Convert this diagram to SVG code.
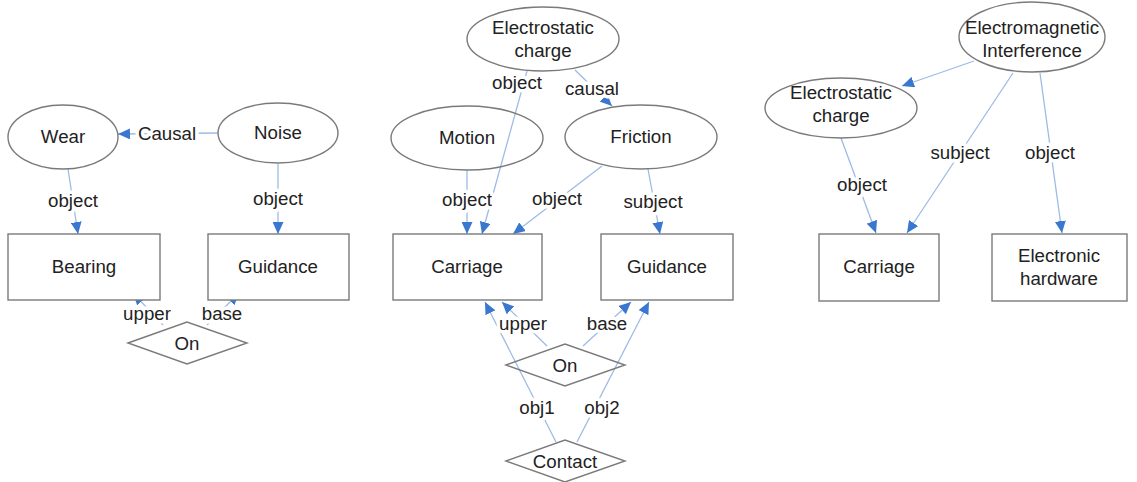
<svg xmlns="http://www.w3.org/2000/svg" width="1137" height="482" viewBox="0 0 1137 482">
  <style>
    .node { fill: #ffffff; stroke: #7a7a7a; stroke-width: 1.4; }
    .open { fill: none; }
    .txt { font-family: "Liberation Sans", Arial, sans-serif; font-size: 18.7px; fill: #222222; text-anchor: middle; }
    .edge { fill: none; stroke: #9dbbe6; stroke-width: 1.3; marker-end: url(#arrow); }
    .lbl { font-family: "Liberation Sans", Arial, sans-serif; font-size: 18.7px; fill: #222222; text-anchor: middle; stroke: #ffffff; stroke-width: 7; stroke-linejoin: round; paint-order: stroke; }
  </style>
  <defs>
    <marker id="arrow" markerUnits="userSpaceOnUse" markerWidth="12" markerHeight="11" refX="12" refY="5.5" orient="auto">
      <path d="M0,0 L12,5.5 L0,11 Z" fill="#3a78cf"/>
    </marker>
  </defs>
  <rect width="1137" height="482" fill="#ffffff"/>

  <!-- connectors -->
  <g id="connectors">
    <!-- left group -->
    <line class="edge" x1="218" y1="133" x2="118" y2="134"/>
    <line class="edge" x1="68" y1="169" x2="78" y2="234"/>
    <line class="edge" x1="278" y1="164" x2="278" y2="234"/>
    <line class="edge" x1="163" y1="325" x2="133" y2="293"/>
    <line class="edge" x1="207" y1="325" x2="239" y2="293"/>
    <!-- middle group -->
    <line class="edge" x1="575" y1="70" x2="612" y2="106"/>
    <line class="edge" x1="467" y1="170" x2="467" y2="234"/>
    <line class="edge" x1="602" y1="166" x2="513" y2="234"/>
    <line class="edge" x1="648" y1="169" x2="660" y2="234"/>
    <line class="edge" x1="547" y1="346" x2="502" y2="302"/>
    <line class="edge" x1="583" y1="346" x2="631" y2="302"/>
    <line class="edge" x1="556" y1="442" x2="485" y2="302"/>
    <line class="edge" x1="577" y1="442" x2="649" y2="302"/>
    <line class="edge" x1="527" y1="71" x2="482" y2="234"/>
    <!-- right group -->
    <line class="edge" x1="974" y1="61" x2="902" y2="86"/>
    <line class="edge" x1="841" y1="138" x2="876" y2="233"/>
    <line class="edge" x1="1013" y1="73" x2="907" y2="233"/>
    <line class="edge" x1="1040" y1="73" x2="1062" y2="233"/>

    <!-- connector labels -->
    <text class="lbl" x="167" y="140">Causal</text>
    <text class="lbl" x="73" y="207">object</text>
    <text class="lbl" x="278" y="205">object</text>
    <text class="lbl" x="147" y="320">upper</text>
    <text class="lbl" x="222" y="320">base</text>

    <text class="lbl" x="517" y="89">object</text>
    <text class="lbl" x="592" y="95">causal</text>
    <text class="lbl" x="467" y="206">object</text>
    <text class="lbl" x="557" y="205">object</text>
    <text class="lbl" x="653" y="208">subject</text>
    <text class="lbl" x="523" y="330">upper</text>
    <text class="lbl" x="607" y="330">base</text>
    <text class="lbl" x="537" y="414">obj1</text>
    <text class="lbl" x="602" y="414">obj2</text>

    <text class="lbl" x="862" y="191">object</text>
    <text class="lbl" x="960" y="159">subject</text>
    <text class="lbl" x="1050" y="159">object</text>
  </g>

  <!-- left group nodes -->
  <g id="wear">
    <ellipse class="node" cx="63" cy="137" rx="55" ry="32"/>
    <text class="txt" x="63" y="143">Wear</text>
  </g>
  <g id="noise">
    <ellipse class="node" cx="278" cy="133" rx="60" ry="30"/>
    <text class="txt" x="278" y="139">Noise</text>
  </g>
  <g id="bearing">
    <rect class="node" x="8" y="234" width="152" height="66"/>
    <text class="txt" x="84" y="273">Bearing</text>
  </g>
  <g id="guidance-1">
    <rect class="node" x="208" y="234" width="141" height="66"/>
    <text class="txt" x="278" y="273">Guidance</text>
  </g>
  <g id="on-1">
    <polygon class="node" points="128,343 187,322 247,343 187,364"/>
    <text class="txt" x="187" y="350">On</text>
  </g>

  <!-- middle group nodes -->
  <g id="electrostatic-charge-1">
    <ellipse class="node" cx="543" cy="39" rx="76" ry="32"/>
    <text class="txt" x="543" y="34">Electrostatic</text>
    <text class="txt" x="543" y="57">charge</text>
  </g>
  <g id="motion">
    <!-- unfilled so the charge-to-carriage link stays visible across it -->
    <ellipse class="node open" cx="467" cy="138" rx="76" ry="32"/>
    <text class="txt" x="467" y="144">Motion</text>
  </g>
  <g id="friction">
    <ellipse class="node" cx="641" cy="137" rx="76" ry="32"/>
    <text class="txt" x="641" y="143">Friction</text>
  </g>
  <g id="carriage-1">
    <rect class="node" x="393" y="234" width="149" height="66"/>
    <text class="txt" x="467" y="273">Carriage</text>
  </g>
  <g id="guidance-2">
    <rect class="node" x="601" y="234" width="132" height="66"/>
    <text class="txt" x="667" y="273">Guidance</text>
  </g>
  <g id="on-2">
    <!-- unfilled so the obj1/obj2 links show through its tips -->
    <polygon class="node open" points="506,365 565,344 625,365 565,386"/>
    <text class="txt" x="565" y="372">On</text>
  </g>
  <g id="contact">
    <polygon class="node" points="506,461 565,440 625,461 565,482"/>
    <text class="txt" x="565" y="468">Contact</text>
  </g>

  <!-- right group nodes -->
  <g id="electromagnetic-interference">
    <ellipse class="node" cx="1032" cy="37" rx="73" ry="35"/>
    <text class="txt" x="1032" y="34">Electromagnetic</text>
    <text class="txt" x="1032" y="57">Interference</text>
  </g>
  <g id="electrostatic-charge-2">
    <ellipse class="node" cx="841" cy="108" rx="76" ry="30"/>
    <text class="txt" x="841" y="99">Electrostatic</text>
    <text class="txt" x="841" y="122">charge</text>
  </g>
  <g id="carriage-2">
    <rect class="node" x="819" y="234" width="120" height="67"/>
    <text class="txt" x="879" y="273">Carriage</text>
  </g>
  <g id="electronic-hardware">
    <rect class="node" x="992" y="234" width="135" height="67"/>
    <text class="txt" x="1059" y="262">Electronic</text>
    <text class="txt" x="1059" y="285">hardware</text>
  </g>
</svg>
